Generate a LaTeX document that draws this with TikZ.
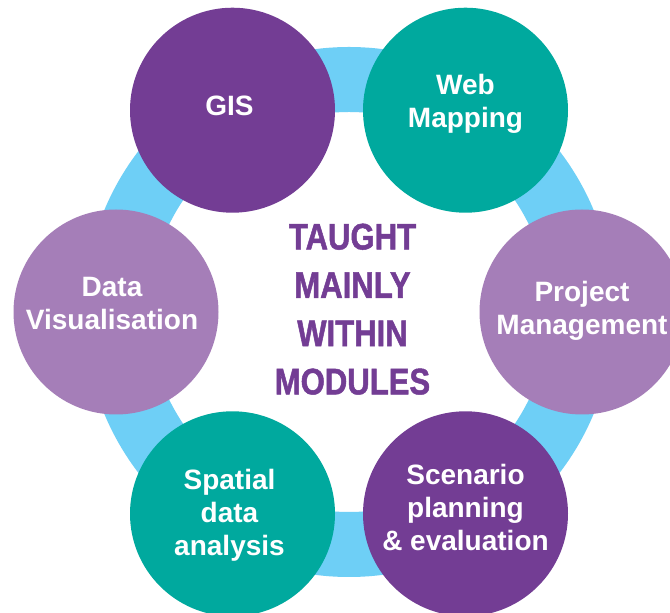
\documentclass[tikz,border=0pt]{standalone}
\usepackage{fontspec}
\setmainfont{Liberation Sans}
\newfontfamily\condfont[FakeStretch=0.84,FakeBold=1.3]{Liberation Sans}
\usetikzlibrary{calc}
\definecolor{dpurple}{HTML}{733D94}
\definecolor{lpurple}{HTML}{A57EB8}
\definecolor{teal}{HTML}{00A99E}
\definecolor{ringblue}{HTML}{6ECFF6}
\begin{document}
\begin{tikzpicture}[x=1pt,y=1pt,
  ring/.style={draw=ringblue, line width=65pt},
  bubble/.style={circle, draw=none, inner sep=0pt, minimum size=205pt},
  lbl/.style={text=white, align=center, font=\bfseries\fontsize{28}{33}\selectfont, text depth=0pt, inner sep=0pt},
  ctext/.style={text=dpurple, align=center, font=\condfont\bfseries\fontsize{37}{48.3}\selectfont, text depth=0pt, inner sep=0pt}]
\useasboundingbox (0,0) rectangle (670,613);
\fill[white] (0,0) rectangle (670,613);
\coordinate (C) at (349,301);
\draw[ring] (C) circle[radius=232.5];
\node[bubble, fill=dpurple] (gis) at ($(C)+(120:233)$) {};
\node[bubble, fill=teal] (web) at ($(C)+(60:233)$) {};
\node[bubble, fill=lpurple] (proj) at ($(C)+(0:233)$) {};
\node[bubble, fill=dpurple] (scen) at ($(C)+(-60:233)$) {};
\node[bubble, fill=teal] (spat) at ($(C)+(-120:233)$) {};
\node[bubble, fill=lpurple] (vis) at ($(C)+(180:233)$) {};
\node[lbl] (gisT) at ($(gis)+(-3,4)$) {GIS};
\node[lbl] (webT) at ($(web)+(0,9)$) {Web\\Mapping};
\node[lbl] (projT) at ($(proj)+(0,4.5)$) {Project\\Management};
\node[lbl] (scenT) at ($(scen)+(0,6)$) {Scenario\\planning\\\& evaluation};
\node[lbl] (spatT) at ($(spat)+(-3,1.5)$) {Spatial\\data\\analysis};
\node[lbl] (visT) at ($(vis)+(-4,8.5)$) {Data\\Visualisation};
\node[ctext] (mid) at (352.5,304) {TAUGHT\\MAINLY\\WITHIN\\MODULES};
\end{tikzpicture}
\end{document}
